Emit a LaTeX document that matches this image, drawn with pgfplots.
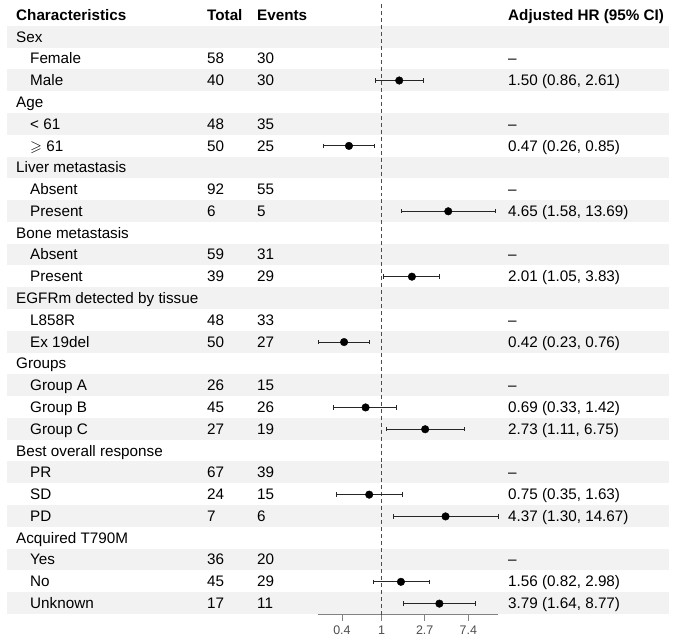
\documentclass[border=0pt]{standalone}
\usepackage{pgfplots}
\pgfplotsset{compat=1.18}
\usepackage{amssymb}
\usepackage{fontspec}
\setmainfont{Liberation Sans}

\definecolor{rowshade}{RGB}{242,242,242}
\definecolor{axgrey}{RGB}{77,77,77}

% baseline of text in row #1 (pixels from top)
\newcommand{\by}[1]{{15+21.78*(#1)+5.4}}

\begin{document}
\begin{tikzpicture}[font=\fontsize{15.3}{18}\selectfont]
\path[use as bounding box] (0,0) rectangle (685bp,-642bp);

% zebra rows
\begin{scope}[x=1bp,y=-1bp]
\foreach \i in {1,3,...,27}
  \fill[rowshade] (7,{4.11+21.78*\i}) rectangle (669,{4.11+21.78*(\i+1)});
\end{scope}

\begin{axis}[
  at={(318bp,-614.5bp)}, anchor=south west,
  scale only axis,
  width=180bp, height=610.3bp,
  xmode=log,
  xmin=0.23, xmax=14.67,
  ymin=-0.5, ymax=27.5,
  y dir=reverse,
  axis x line*=bottom,
  axis y line=none,
  xtick={0.4,1,2.7,7.4},
  xticklabels={0.4,1,2.7,7.4},
  tick align=outside,
  major tick length=6bp,
  axis line style={axgrey!70, line width=0.8pt},
  tick style={axgrey!70, line width=0.8pt},
  xticklabel style={font=\fontsize{12.5}{14}\selectfont, text=axgrey, yshift=-1.5bp},
  clip=false,
]
% reference line at HR = 1
\addplot[axgrey, line width=0.7pt, dash pattern=on 4pt off 3pt]
  coordinates {(1,-0.5) (1,27.5)};

% 95% CI
\addplot[black!85, line width=0.8pt, mark=|, mark size=2.2bp,
  unbounded coords=jump]
  coordinates {
  (0.86,3) (2.61,3) (nan,nan)
  (0.26,6) (0.85,6) (nan,nan)
  (1.58,9) (13.69,9) (nan,nan)
  (1.05,12) (3.83,12) (nan,nan)
  (0.23,15) (0.76,15) (nan,nan)
  (0.33,18) (1.42,18) (nan,nan)
  (1.11,19) (6.75,19) (nan,nan)
  (0.35,22) (1.63,22) (nan,nan)
  (1.30,23) (14.67,23) (nan,nan)
  (0.82,26) (2.98,26) (nan,nan)
  (1.64,27) (8.77,27)
  };

% point estimates
\addplot[only marks, mark=*, mark size=3.8bp, black]
  coordinates {
  (1.50,3) (0.47,6) (4.65,9) (2.01,12) (0.42,15)
  (0.69,18) (2.73,19) (0.75,22) (4.37,23) (1.56,26) (3.79,27)
  };
\end{axis}

\begin{scope}[x=1bp,y=-1bp, every node/.style={anchor=base west, inner sep=0pt}]
% header
\node[font=\fontsize{15.3}{18}\selectfont\bfseries] at (16,\by{0}) {Characteristics};
\node[font=\fontsize{15.3}{18}\selectfont\bfseries] at (207,\by{0}) {Total};
\node[font=\fontsize{15.3}{18}\selectfont\bfseries] at (257,\by{0}) {Events};
\node[font=\fontsize{15.3}{18}\selectfont\bfseries] at (508,\by{0}) {Adjusted HR (95\% CI)};

% groups
\node at (16,\by{1}) {Sex};
\node at (16,\by{4}) {Age};
\node at (16,\by{7}) {Liver metastasis};
\node at (16,\by{10}) {Bone metastasis};
\node at (16,\by{13}) {EGFRm detected by tissue};
\node at (16,\by{16}) {Groups};
\node at (16,\by{20}) {Best overall response};
\node at (16,\by{24}) {Acquired T790M};

% levels: row / label / total / events / HR text
\foreach \r/\lab/\tot/\ev/\hr in {
  2/Female/58/30/--,
  3/Male/40/30/{1.50 (0.86, 2.61)},
  5/{< 61}/48/35/--,
  6/{$\geqslant$ 61}/50/25/{0.47 (0.26, 0.85)},
  8/Absent/92/55/--,
  9/Present/6/5/{4.65 (1.58, 13.69)},
  11/Absent/59/31/--,
  12/Present/39/29/{2.01 (1.05, 3.83)},
  14/L858R/48/33/--,
  15/Ex 19del/50/27/{0.42 (0.23, 0.76)},
  17/Group A/26/15/--,
  18/Group B/45/26/{0.69 (0.33, 1.42)},
  19/Group C/27/19/{2.73 (1.11, 6.75)},
  21/PR/67/39/--,
  22/SD/24/15/{0.75 (0.35, 1.63)},
  23/PD/7/6/{4.37 (1.30, 14.67)},
  25/Yes/36/20/--,
  26/No/45/29/{1.56 (0.82, 2.98)},
  27/Unknown/17/11/{3.79 (1.64, 8.77)}}
{
  \node at (30,\by{\r}) {\lab};
  \node at (207,\by{\r}) {\tot};
  \node at (257,\by{\r}) {\ev};
  \node at (508,\by{\r}) {\hr};
}
\end{scope}
\end{tikzpicture}
\end{document}
